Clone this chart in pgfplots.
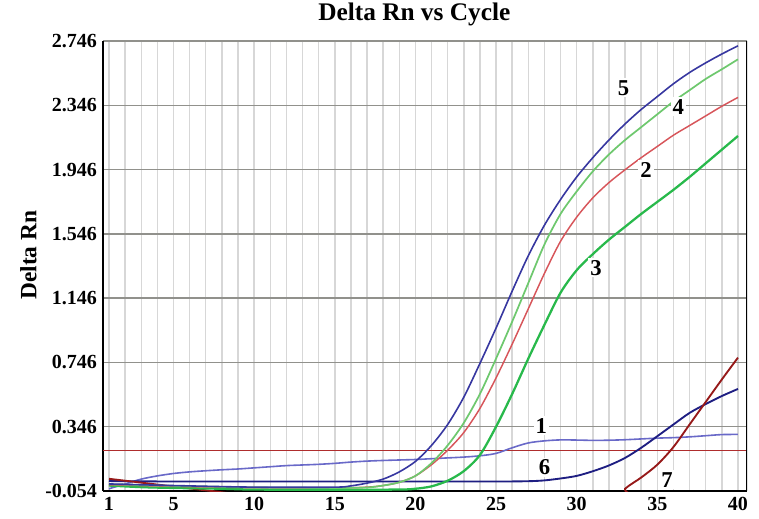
\documentclass[border=0pt]{standalone}
\usepackage{fontspec}
\setmainfont{Liberation Serif}
\usepackage{pgfplots}
\pgfplotsset{compat=1.18}

\definecolor{cfive}{RGB}{55,55,160}
\definecolor{cfour}{RGB}{110,200,110}
\definecolor{ctwo}{RGB}{215,85,90}
\definecolor{cthree}{RGB}{40,185,75}
\definecolor{cone}{RGB}{105,105,200}
\definecolor{csix}{RGB}{30,30,130}
\definecolor{cseven}{RGB}{150,25,25}
\definecolor{cthr}{RGB}{175,45,45}
\definecolor{vgrid}{RGB}{215,215,215}
\definecolor{hgrid}{RGB}{145,145,140}

\begin{document}
\begin{tikzpicture}
\begin{axis}[
    scale only axis,
    width=483pt, height=337.5pt,
    xmin=0.628, xmax=40.56,
    ymin=-0.054, ymax=2.746,
    xtick={1,5,10,15,20,25,30,35,40},
    xticklabels={1,5,10,15,20,25,30,35,40},
    minor xtick={1,...,40},
    ytick={-0.054,0.346,0.746,1.146,1.546,1.946,2.346,2.746},
    yticklabels={-0.054,0.346,0.746,1.146,1.546,1.946,2.346,2.746},
    major tick length=0pt, minor tick length=0pt,
    xmajorgrids, xminorgrids, ymajorgrids,
    x grid style={vgrid, line width=1.1pt},
    minor x grid style={vgrid, line width=1.1pt},
    y grid style={hgrid, line width=1pt},
    axis x line*=bottom, axis y line*=left,
    axis line style={black, line width=1.8pt, -},
    ticklabel style={font=\bfseries\fontsize{15}{15}\selectfont},
    yticklabel style={xshift=-1pt},
    xticklabel style={yshift=-1pt},
    title={Delta Rn vs Cycle},
    title style={font=\bfseries\fontsize{19}{19}\selectfont, anchor=base, yshift=9.5pt, xshift=-8pt},
    ylabel={Delta Rn},
    ylabel style={font=\bfseries\fontsize{17.5}{17.5}\selectfont, at={(axis description cs:-0.116,0.524)}, anchor=center},
    every axis plot/.append style={smooth, tension=0.5},
    clip=true,
]
% threshold
\addplot[cthr, line width=1.1pt] coordinates {(0.628,0.198) (40.56,0.198)};
% 1
\addplot[cone, line width=1.2pt] coordinates {
(1,-0.040) (2,-0.010) (3,0.020) (4,0.040) (5,0.055) (6,0.065) (7,0.072) (8,0.078)
(9,0.083) (10,0.090) (11,0.097) (12,0.104) (13,0.108) (14,0.112) (15,0.118) (16,0.126)
(17,0.132) (18,0.136) (19,0.139) (20,0.142) (21,0.147) (22,0.152) (23,0.157) (24,0.165)
(25,0.180) (26,0.215) (27,0.245) (28,0.258) (29,0.264) (30,0.263) (31,0.261) (32,0.262)
(33,0.265) (34,0.270) (35,0.275) (36,0.278) (37,0.283) (38,0.290) (39,0.297) (40,0.298)};
% 6
\addplot[csix, line width=1.4pt] coordinates {
(1,0.008) (3,0.006) (6,0.005) (10,0.005) (15,0.005) (20,0.005) (25,0.005) (27,0.007)
(28,0.012) (29,0.024) (30,0.040) (31,0.069) (32,0.105) (33,0.152) (34,0.215) (35,0.287)
(36,0.360) (37,0.432) (38,0.487) (39,0.537) (40,0.581)};
% 7
\addplot[cseven, line width=1.4pt] coordinates {
(1,0.022) (2,0.010) (3,-0.002) (4,-0.014) (5,-0.026) (6,-0.038) (7,-0.050) (8,-0.062)
(9,-0.080) (10,-0.150) (32,-0.150) (33,-0.040) (34,0.030) (35,0.110) (36,0.220)
(37,0.360) (38,0.500) (39,0.640) (40,0.776)};
% 3
\addplot[cthree, line width=1.7pt] coordinates {
(1,-0.020) (3,-0.030) (5,-0.035) (8,-0.040) (10,-0.045) (15,-0.046) (19,-0.045)
(20,-0.040) (21,-0.025) (22,0.010) (23,0.070) (24,0.170) (25,0.346) (26,0.550)
(27,0.770) (28,0.980) (29,1.180) (30,1.320) (31,1.420) (32,1.510) (33,1.590)
(34,1.670) (35,1.745) (36,1.820) (37,1.900) (38,1.985) (39,2.070) (40,2.155)};
% 2
\addplot[ctwo, line width=1.1pt] coordinates {
(1,-0.015) (5,-0.025) (10,-0.033) (15,-0.035) (17,-0.030) (18,-0.020) (19,0.000)
(20,0.040) (21,0.110) (22,0.200) (23,0.310) (24,0.460) (25,0.650) (26,0.860)
(27,1.080) (28,1.300) (29,1.500) (30,1.650) (31,1.770) (32,1.865) (33,1.945)
(34,2.020) (35,2.090) (36,2.160) (37,2.220) (38,2.280) (39,2.340) (40,2.395)};
% 4
\addplot[cfour, line width=1.3pt] coordinates {
(1,-0.012) (5,-0.022) (10,-0.032) (15,-0.035) (17,-0.032) (18,-0.020) (19,0.000)
(20,0.040) (21,0.120) (22,0.230) (23,0.370) (24,0.550) (25,0.770) (26,1.000)
(27,1.240) (28,1.480) (29,1.670) (30,1.810) (31,1.935) (32,2.040) (33,2.130)
(34,2.210) (35,2.290) (36,2.370) (37,2.440) (38,2.510) (39,2.570) (40,2.632)};
% 5
\addplot[cfive, line width=1.2pt] coordinates {
(1,-0.010) (5,-0.020) (10,-0.030) (15,-0.030) (16,-0.022) (17,-0.005) (18,0.020)
(19,0.065) (20,0.130) (21,0.230) (22,0.360) (23,0.530) (24,0.740) (25,0.960)
(26,1.190) (27,1.410) (28,1.600) (29,1.760) (30,1.900) (31,2.020) (32,2.130)
(33,2.230) (34,2.320) (35,2.400) (36,2.480) (37,2.550) (38,2.610) (39,2.665) (40,2.716)};
% right border
\draw[black, line width=1.2pt] (rel axis cs:1,0) -- (rel axis cs:1,1);
% curve labels
\begin{scope}[every node/.style={fill=white, inner sep=1.5pt, font=\bfseries\fontsize{17}{17}\selectfont}]
\node at (axis cs:32.9,2.454) {5};
\node at (axis cs:36.3,2.336) {4};
\node at (axis cs:34.3,1.944) {2};
\node at (axis cs:31.2,1.335) {3};
\node at (axis cs:27.8,0.353) {1};
\node at (axis cs:28.0,0.092) {6};
\node at (axis cs:35.6,0.017) {7};
\end{scope}
\coordinate (sw) at (rel axis cs:0,0);
\coordinate (ne) at (rel axis cs:1,1);
\end{axis}
\pgfresetboundingbox
\useasboundingbox ([xshift=-77.25pt,yshift=-20.25pt]sw) rectangle ([xshift=9pt,yshift=30.75pt]ne);
\end{tikzpicture}
\end{document}
